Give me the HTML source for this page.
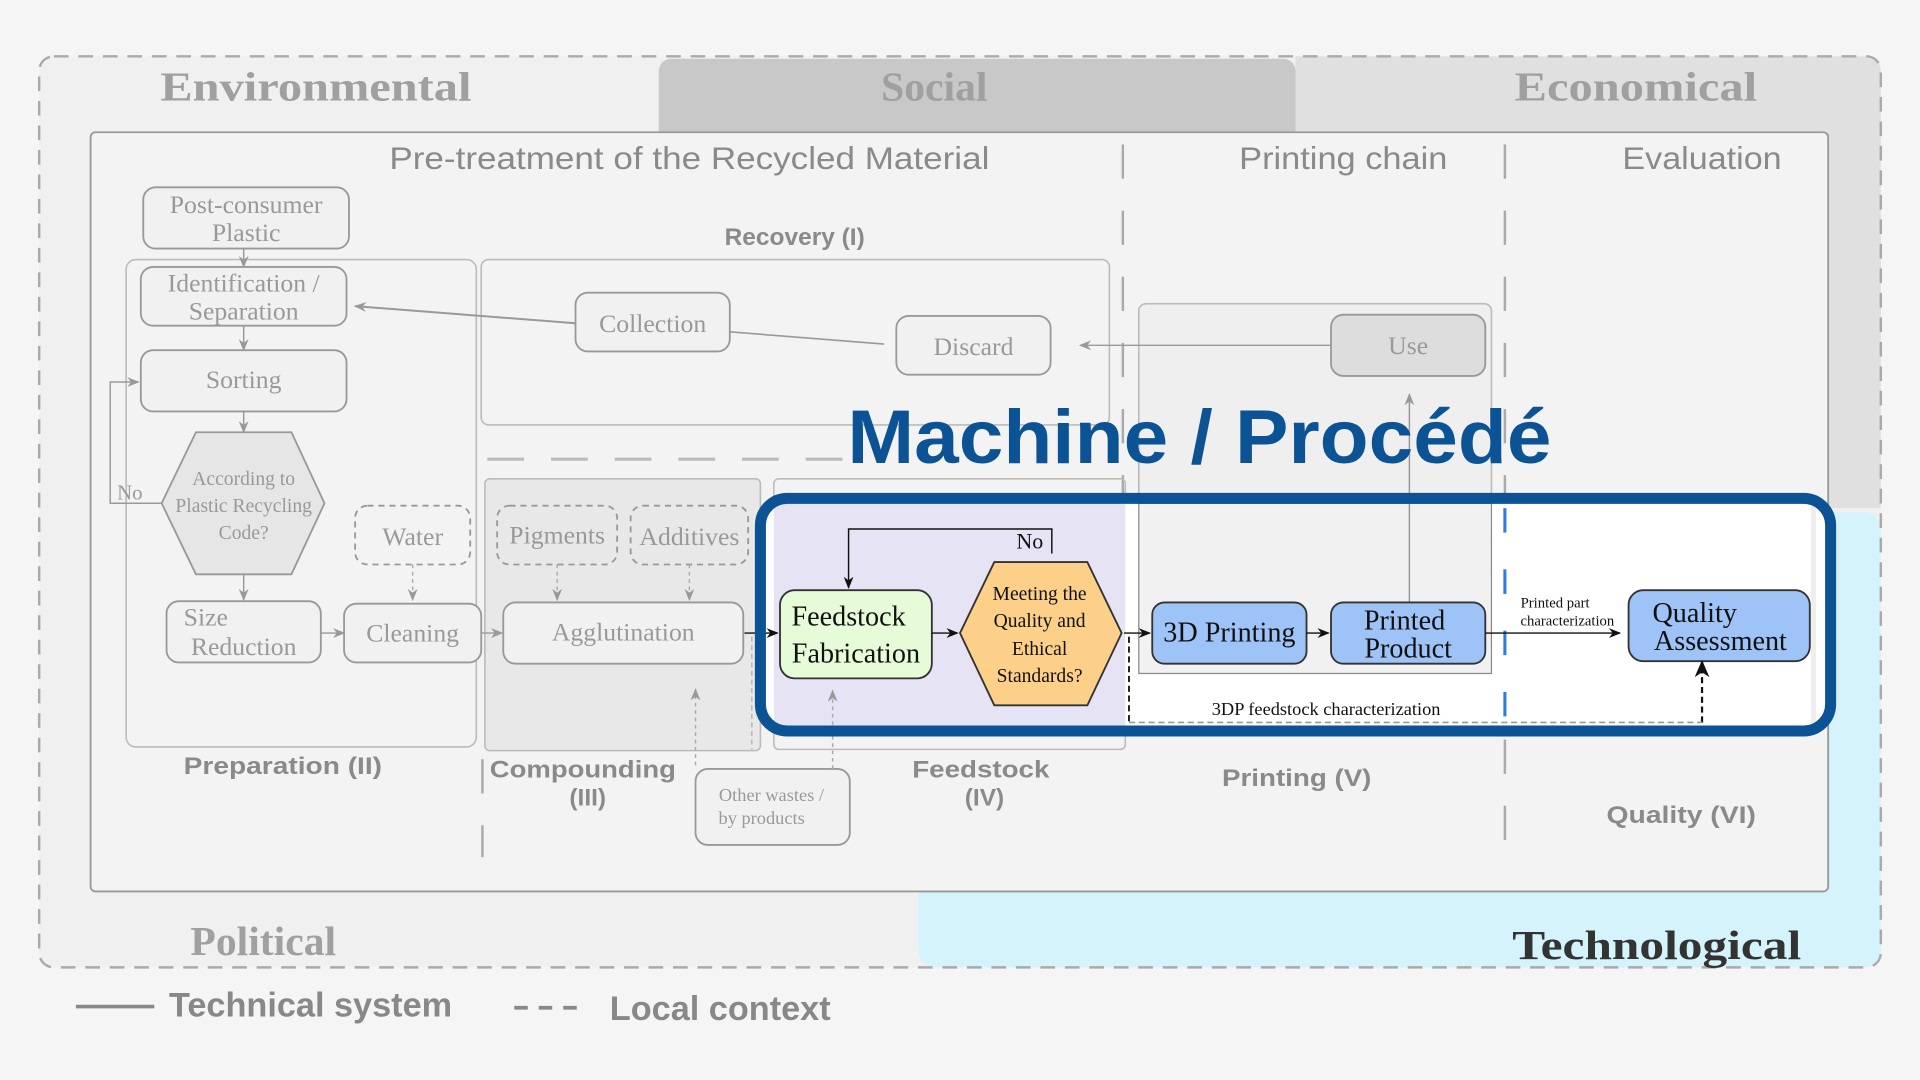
<!DOCTYPE html>
<html><head><meta charset="utf-8"><style>
html,body{margin:0;padding:0;background:#f5f5f5;width:1920px;height:1080px;overflow:hidden}
svg{display:block}
.s{font-family:"Liberation Serif",serif}
.a{font-family:"Liberation Sans",sans-serif}
</style></head><body>
<svg width="1920" height="1080" viewBox="0 0 1568 882" xmlns="http://www.w3.org/2000/svg">
<defs>
<marker id="g" markerWidth="10" markerHeight="8" refX="9" refY="4" orient="auto" markerUnits="userSpaceOnUse"><path d="M0,0 L10,4 L0,8 L3,4z" fill="#999"/></marker>
<marker id="k" markerWidth="10" markerHeight="8" refX="9" refY="4" orient="auto" markerUnits="userSpaceOnUse"><path d="M0,0 L10,4 L0,8 L3,4z" fill="#111"/></marker>
<marker id="kb" markerWidth="14" markerHeight="12" refX="13" refY="6" orient="auto" markerUnits="userSpaceOnUse"><path d="M0,0 L14,6 L0,12 L4,6z" fill="#111"/></marker>
</defs>
<rect width="1568" height="882" fill="#f5f5f5"/>
<rect x="32" y="46" width="1504" height="744" rx="12" fill="#f0f0f0"/>
<path d="M1058,46 H1524 a12,12 0 0 1 12,12 V415 H1058z" fill="#e0e0e0"/>
<path d="M548,48 H1048 a10,10 0 0 1 10,10 V108 H538 V58 a10,10 0 0 1 10,-10z" fill="#c8c8c8"/>
<rect x="750" y="418" width="786" height="372" rx="14" fill="#d5f3fb"/>
<rect x="32" y="46" width="1504" height="744" rx="12" fill="none" stroke="#aaa" stroke-width="2" stroke-dasharray="12,8"/>
<g class="s" font-weight="bold" font-size="34" fill="#a0a0a0" text-anchor="middle">
<text x="258" y="82" textLength="254" lengthAdjust="spacingAndGlyphs">Environmental</text><text x="763" y="82">Social</text><text x="1336" y="82" textLength="198" lengthAdjust="spacingAndGlyphs">Economical</text>
<text x="215" y="780">Political</text><text x="1353" y="783" fill="#333" textLength="236" lengthAdjust="spacingAndGlyphs">Technological</text>
</g>
<rect x="74" y="108" width="1419" height="620" rx="4" fill="#f3f3f3" stroke="#999" stroke-width="1.5"/>
<g class="a" font-size="26" fill="#8a8a8a" text-anchor="middle">
<text x="563" y="138" textLength="490" lengthAdjust="spacingAndGlyphs">Pre-treatment of the Recycled Material</text><text x="1097" y="138" textLength="170" lengthAdjust="spacingAndGlyphs">Printing chain</text><text x="1390" y="138" textLength="130" lengthAdjust="spacingAndGlyphs">Evaluation</text>
</g>
<g stroke="#aaa" stroke-width="2" stroke-dasharray="28,26"><line x1="917" y1="118" x2="917" y2="600"/><line x1="1229" y1="118" x2="1229" y2="700"/><line x1="394" y1="620" x2="394" y2="700"/></g>
<line x1="398" y1="375" x2="700" y2="375" stroke="#bbb" stroke-width="2.5" stroke-dasharray="30,22"/>
<g class="a" font-weight="bold" font-size="20" fill="#8a8a8a" text-anchor="middle">
<text x="649" y="200">Recovery (I)</text><text x="231" y="632" textLength="162" lengthAdjust="spacingAndGlyphs">Preparation (II)</text>
<text x="476" y="635" textLength="152" lengthAdjust="spacingAndGlyphs">Compounding</text><text x="480" y="658">(III)</text>
<text x="801" y="635" textLength="112" lengthAdjust="spacingAndGlyphs">Feedstock</text><text x="804" y="658">(IV)</text>
<text x="1059" y="642" textLength="122" lengthAdjust="spacingAndGlyphs">Printing (V)</text><text x="1373" y="672" textLength="122" lengthAdjust="spacingAndGlyphs">Quality (VI)</text>
</g>
<g fill="none" stroke="#bbb" stroke-width="1.3">
<rect x="103" y="212" width="286" height="398" rx="8"/>
<rect x="393" y="212" width="513" height="135" rx="6"/>
<rect x="396" y="391" width="225" height="222" rx="4" fill="#e8e8e8"/>
<rect x="632" y="391" width="287" height="221" rx="4"/>
<rect x="930" y="248" width="288" height="302" rx="6" fill="#efefef"/>
</g>
<rect x="625" y="411" width="866" height="182" fill="#fff"/>
<rect x="632" y="411" width="287" height="182" fill="#e6e4f4"/>
<rect x="930" y="411" width="288" height="139" fill="#f1f1f1" stroke="#888" stroke-width="1"/>
<line x1="1481" y1="411" x2="1481" y2="593" stroke="#eee" stroke-width="4"/>
<g stroke="#2a7de1" stroke-width="2.5" stroke-dasharray="20,30"><line x1="1229" y1="415" x2="1229" y2="595"/></g>
<g fill="#f1f1f1" stroke="#999" stroke-width="1.5">
<rect x="117" y="153" width="168" height="50" rx="10"/>
<rect x="115" y="218" width="168" height="48" rx="10"/>
<rect x="115" y="286" width="168" height="50" rx="10"/>
<polygon points="160,353 238,353 265,411 238,469 160,469 132,411" fill="#e6e6e6"/>
<rect x="136" y="491" width="126" height="50" rx="10"/>
<rect x="281" y="493" width="112" height="48" rx="10"/>
<rect x="411" y="492" width="196" height="50" rx="10"/>
<rect x="470" y="239" width="126" height="48" rx="10"/>
<rect x="732" y="258" width="126" height="48" rx="10"/>
<rect x="1087" y="257" width="126" height="50" rx="10" fill="#ddd"/>
<rect x="568" y="628" width="126" height="62" rx="10"/>
</g>
<g fill="none" stroke="#999" stroke-width="1.5" stroke-dasharray="5,4">
<rect x="290" y="413" width="94" height="48" rx="10"/>
<rect x="406" y="413" width="98" height="48" rx="10"/>
<rect x="515" y="413" width="96" height="48" rx="10"/>
</g>
<g class="s" font-size="21" fill="#999" text-anchor="middle">
<text x="201" y="174">Post-consumer</text><text x="201" y="197">Plastic</text>
<text x="199" y="238">Identification /</text><text x="199" y="261">Separation</text>
<text x="199" y="317">Sorting</text>
<text x="199" y="396" font-size="16">According to</text><text x="199" y="418" font-size="16">Plastic Recycling</text><text x="199" y="440" font-size="16">Code?</text>
<text x="150" y="511" text-anchor="start">Size</text><text x="199" y="535">Reduction</text>
<text x="337" y="524">Cleaning</text><text x="337" y="445">Water</text>
<text x="455" y="444">Pigments</text><text x="563" y="445">Additives</text>
<text x="509" y="523">Agglutination</text>
<text x="533" y="271">Collection</text><text x="795" y="290">Discard</text><text x="1150" y="289">Use</text>
<text x="630" y="654" font-size="15">Other wastes /</text><text x="622" y="673" font-size="15">by products</text>
<text x="106" y="408" font-size="17">No</text>
</g>
<g stroke="#999" stroke-width="1.2" fill="none" marker-end="url(#g)">
<line x1="199" y1="203" x2="199" y2="218"/>
<line x1="199" y1="266" x2="199" y2="286"/>
<line x1="199" y1="336" x2="199" y2="353"/>
<line x1="199" y1="469" x2="199" y2="490"/>
<line x1="262" y1="517" x2="281" y2="517"/>
<line x1="393" y1="517" x2="410" y2="517"/>
<path d="M132,411 H90 V312 H113"/>
<line x1="470" y1="264" x2="290" y2="250" stroke-width="1.6"/>
<line x1="1087" y1="282" x2="882" y2="282"/>
<line x1="1151" y1="492" x2="1151" y2="322"/>
</g>
<line x1="596" y1="271" x2="722" y2="281" stroke="#999" stroke-width="1.3"/>
<g stroke="#aaa" stroke-width="1.2" stroke-dasharray="3,3" fill="none" marker-end="url(#g)">
<line x1="337" y1="461" x2="337" y2="490"/><line x1="455" y1="461" x2="455" y2="490"/><line x1="563" y1="461" x2="563" y2="490"/>
<line x1="568" y1="625" x2="568" y2="563"/><line x1="680" y1="628" x2="680" y2="564"/>
</g>
<line x1="614" y1="520" x2="614" y2="612" stroke="#aaa" stroke-dasharray="4,3"/>
<rect x="637" y="482" width="124" height="72" rx="12" fill="#e6fcd8" stroke="#333" stroke-width="1.5"/>
<polygon points="812,459 888,459 916,517 888,576 812,576 784,517" fill="#fdd08a" stroke="#333" stroke-width="1.5"/>
<rect x="941" y="492" width="126" height="50" rx="10" fill="#9ec3f7" stroke="#333" stroke-width="1.5"/>
<rect x="1087" y="492" width="126" height="50" rx="10" fill="#9ec3f7" stroke="#333" stroke-width="1.5"/>
<rect x="1330" y="482" width="148" height="58" rx="12" fill="#9ec3f7" stroke="#333" stroke-width="1.5"/>
<g class="s" fill="#111" text-anchor="middle">
<text x="693" y="511" font-size="23">Feedstock</text><text x="699" y="541" font-size="23">Fabrication</text>
<text x="849" y="490" font-size="16">Meeting the</text><text x="849" y="512" font-size="16">Quality and</text><text x="849" y="535" font-size="16">Ethical</text><text x="849" y="557" font-size="16">Standards?</text>
<text x="1004" y="524" font-size="23">3D Printing</text>
<text x="1147" y="514" font-size="23">Printed</text><text x="1150" y="537" font-size="23">Product</text>
<text x="1384" y="508" font-size="23">Quality</text><text x="1405" y="531" font-size="23">Assessment</text>
<text x="841" y="448" font-size="18">No</text>
<text x="1083" y="584" font-size="15">3DP feedstock characterization</text>
<text x="1270" y="496" font-size="12">Printed part</text><text x="1280" y="511" font-size="12">characterization</text>
</g>
<g stroke="#111" stroke-width="1.2" fill="none">
<path d="M859,452 V432 H693 V480" marker-end="url(#k)"/>
<line x1="761" y1="517" x2="782" y2="517" marker-end="url(#k)"/>
<line x1="918" y1="517" x2="939" y2="517" marker-end="url(#k)"/>
<line x1="1067" y1="517" x2="1085" y2="517" marker-end="url(#k)"/>
<line x1="1213" y1="517" x2="1323" y2="517" marker-end="url(#k)"/>
<line x1="608" y1="517" x2="635" y2="517" marker-end="url(#k)"/>
<line x1="922" y1="520" x2="922" y2="590" stroke-dasharray="5,3" stroke-width="1.5"/>
<line x1="1390" y1="590" x2="1390" y2="540" stroke-dasharray="5,3" stroke-width="1.8" marker-end="url(#kb)"/>
</g>
<line x1="922" y1="590" x2="1390" y2="590" stroke="#999" stroke-width="1.3" stroke-dasharray="5,3"/>
<rect x="621" y="407" width="874" height="190" rx="22" fill="none" stroke="#0b5394" stroke-width="9"/>
<text x="692" y="378" class="a" font-weight="bold" font-size="62" fill="#0b5394" textLength="575" lengthAdjust="spacingAndGlyphs">Machine / Procédé</text>
<line x1="62" y1="822" x2="126" y2="822" stroke="#888" stroke-width="3"/>
<text x="138" y="830" class="a" font-weight="bold" font-size="28" fill="#888">Technical system</text>
<line x1="420" y1="823" x2="478" y2="823" stroke="#888" stroke-width="3" stroke-dasharray="11,9"/>
<text x="498" y="833" class="a" font-weight="bold" font-size="28" fill="#888">Local context</text>
</svg>
</body></html>
